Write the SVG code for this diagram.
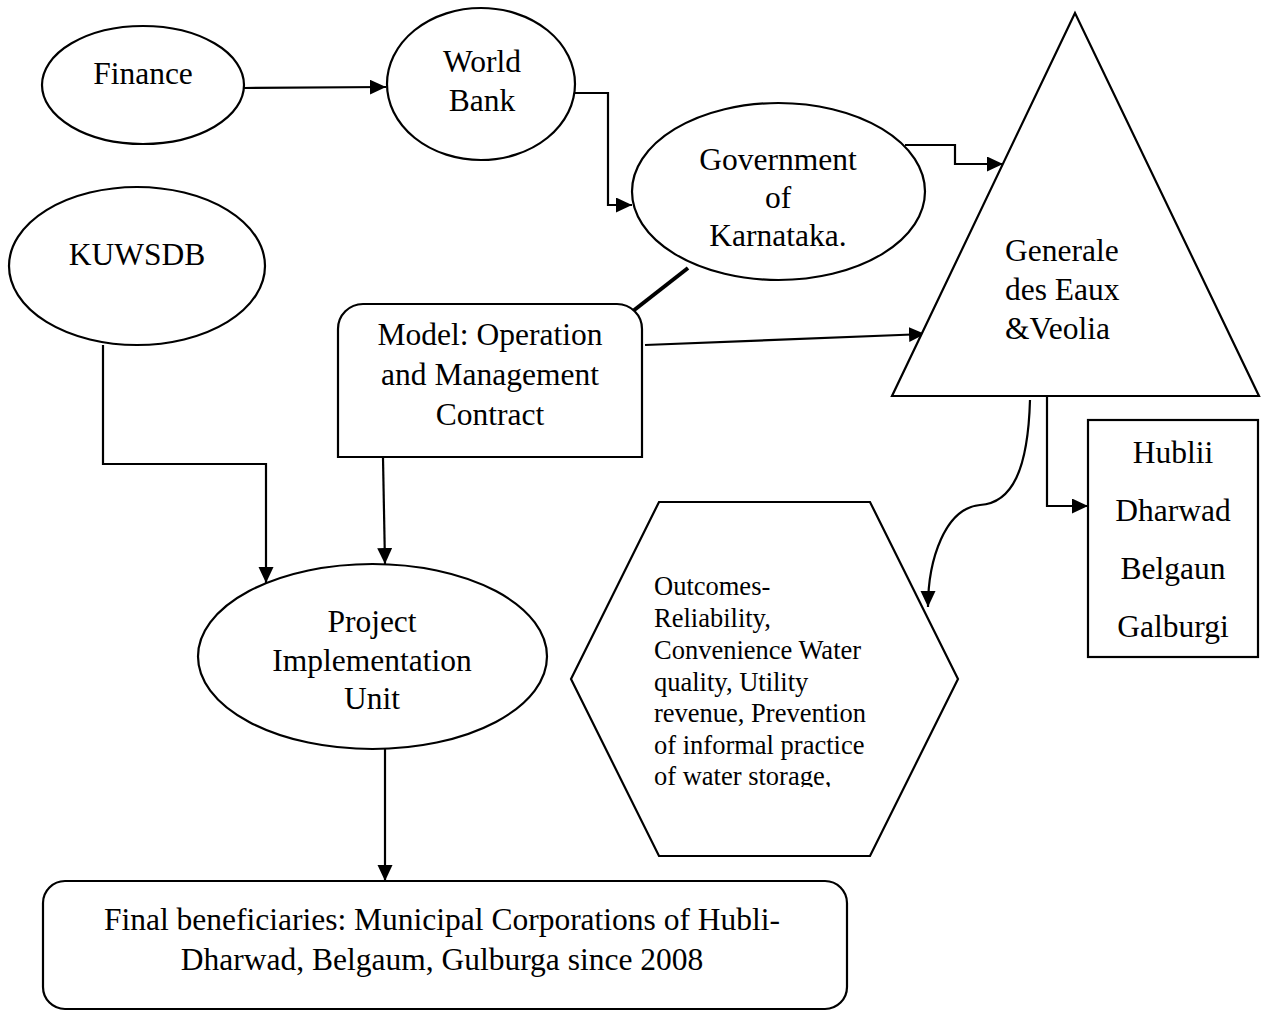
<svg xmlns="http://www.w3.org/2000/svg" width="1261" height="1012" viewBox="0 0 1261 1012">
<defs>
<style>
.shape{fill:#fff;stroke:#000;stroke-width:2.2}
.t{font-family:"Liberation Serif","Times New Roman",serif;font-size:31.5px;fill:#000}
.ts{font-family:"Liberation Serif","Times New Roman",serif;font-size:26.5px;fill:#000}
.c{fill:none;stroke:#000;stroke-width:2.2}
</style>
<marker id="ah" markerUnits="userSpaceOnUse" markerWidth="18" markerHeight="18" refX="16" refY="7.5" orient="auto">
<path d="M0,0 L16,7.5 L0,15 z" fill="#000"/>
</marker>
<clipPath id="hexclip"><rect x="600" y="540" width="320" height="247"/></clipPath>
</defs>
<rect width="1261" height="1012" fill="#fff"/>

<g id="connectors">
<path class="c" d="M244,88 L386,87" marker-end="url(#ah)"/>
<path class="c" d="M575,93 L608,93 L608,205 L632,205" marker-end="url(#ah)"/>
<path class="c" d="M905,145 L955,145 L955,164 L1003,164" marker-end="url(#ah)"/>
<path class="c" d="M688,268 L633,311" style="stroke-width:4"/>
<path class="c" d="M645,345 L925,334" marker-end="url(#ah)"/>
<path class="c" d="M103,345 L103,464 L266,464 L266,583" marker-end="url(#ah)"/>
<path class="c" d="M383,458 L385,564" marker-end="url(#ah)"/>
<path class="c" d="M385,749 L385,881" marker-end="url(#ah)"/>
<path class="c" d="M1067,396 L1047,396 L1047,506 L1088,506" marker-end="url(#ah)"/>
<path class="c" d="M1030,400 C1028,470 1012,503 980,505 C945,508 928,560 928,607" marker-end="url(#ah)"/>
</g>

<g id="finance">
<ellipse class="shape" cx="143" cy="85" rx="101" ry="59"/>
<text class="t" x="143" y="84" text-anchor="middle">Finance</text>
</g>

<g id="world-bank">
<ellipse class="shape" cx="481" cy="84" rx="94" ry="76"/>
<text class="t" x="482" y="72" text-anchor="middle">World</text>
<text class="t" x="482" y="111" text-anchor="middle">Bank</text>
</g>

<g id="government">
<ellipse class="shape" cx="778.5" cy="191.5" rx="146.5" ry="88.5"/>
<text class="t" x="778" y="170" text-anchor="middle">Government</text>
<text class="t" x="778" y="208" text-anchor="middle">of</text>
<text class="t" x="778" y="246" text-anchor="middle">Karnataka.</text>
</g>

<g id="kuwsdb">
<ellipse class="shape" cx="137" cy="266" rx="128" ry="79"/>
<text class="t" x="137" y="265" text-anchor="middle">KUWSDB</text>
</g>

<g id="generale">
<polygon class="shape" points="1075,13 892,396 1259,396"/>
<text class="t" x="1005" y="261">Generale</text>
<text class="t" x="1005" y="300">des Eaux</text>
<text class="t" x="1005" y="339">&amp;Veolia</text>
</g>

<g id="model">
<path class="shape" d="M338,457 L338,329 A25,25 0 0 1 363,304 L617,304 A25,25 0 0 1 642,329 L642,457 Z"/>
<text class="t" x="490" y="345" text-anchor="middle">Model: Operation</text>
<text class="t" x="490" y="385" text-anchor="middle">and Management</text>
<text class="t" x="490" y="425" text-anchor="middle">Contract</text>
</g>

<g id="cities">
<rect class="shape" x="1088" y="420" width="170" height="237"/>
<text class="t" x="1173" y="463" text-anchor="middle">Hublii</text>
<text class="t" x="1173" y="521" text-anchor="middle">Dharwad</text>
<text class="t" x="1173" y="579" text-anchor="middle">Belgaun</text>
<text class="t" x="1173" y="637" text-anchor="middle">Galburgi</text>
</g>

<g id="outcomes">
<polygon class="shape" points="659,502 870,502 958,679 870,856 659,856 571,679"/>
<g clip-path="url(#hexclip)">
<text class="ts" x="654" y="595">Outcomes-</text>
<text class="ts" x="654" y="627">Reliability,</text>
<text class="ts" x="654" y="659">Convenience Water</text>
<text class="ts" x="654" y="691">quality, Utility</text>
<text class="ts" x="654" y="722">revenue, Prevention</text>
<text class="ts" x="654" y="754">of informal practice</text>
<text class="ts" x="654" y="785">of water storage,</text>
</g>
</g>

<g id="piu">
<ellipse class="shape" cx="372.5" cy="656.5" rx="174.5" ry="92.5"/>
<text class="t" x="372" y="632" text-anchor="middle">Project</text>
<text class="t" x="372" y="671" text-anchor="middle">Implementation</text>
<text class="t" x="372" y="709" text-anchor="middle">Unit</text>
</g>

<g id="final">
<rect class="shape" x="43" y="881" width="804" height="128" rx="22" ry="22"/>
<text class="t" x="442" y="930" text-anchor="middle">Final beneficiaries: Municipal Corporations of Hubli-</text>
<text class="t" x="442" y="970" text-anchor="middle">Dharwad, Belgaum, Gulburga since 2008</text>
</g>
</svg>
